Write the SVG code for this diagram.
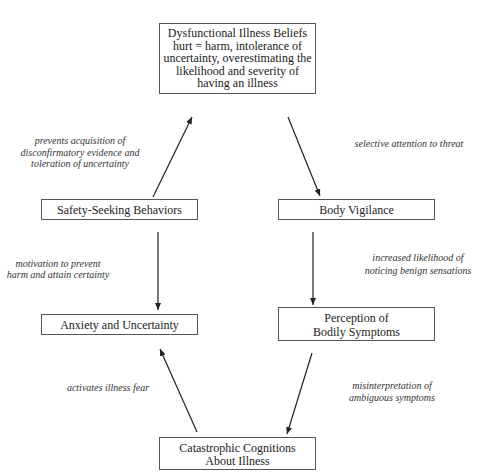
<svg xmlns="http://www.w3.org/2000/svg" width="480" height="476" viewBox="0 0 480 476">
<style>
.box{fill:#fff;stroke:#555;stroke-width:1}
.t{font-size:12px;fill:#222;text-anchor:middle}
.l{font-size:10px;font-style:italic;fill:#333;text-anchor:middle}
.c{stroke:#222;stroke-width:1.2;fill:none;marker-end:url(#ah)}
</style>
<defs>
<marker id="ah" markerUnits="userSpaceOnUse" markerWidth="8" markerHeight="6" refX="7" refY="3" orient="auto">
<path d="M0,0 L7,3 L0,6 Z" fill="#222"/>
</marker>
</defs>
<rect width="480" height="476" fill="#fff"/>
<g id="connectors">
<line class="c" x1="153" y1="197" x2="192" y2="117"/>
<line class="c" x1="288" y1="117" x2="320" y2="196"/>
<line class="c" x1="313" y1="232" x2="313" y2="305"/>
<line class="c" x1="158" y1="232" x2="158" y2="310"/>
<line class="c" x1="312" y1="353" x2="287" y2="434"/>
<line class="c" x1="197" y1="432" x2="160" y2="349"/>
</g>
<g id="labels" font-family="Times New Roman">
<text class="l" x="80" y="143.5">prevents acquisition of</text>
<text class="l" x="80" y="155.5">disconfirmatory evidence and</text>
<text class="l" x="80" y="167">toleration of uncertainty</text>
<text class="l" x="409" y="146.5">selective attention to threat</text>
<text class="l" x="58" y="266.5">motivation to prevent</text>
<text class="l" x="58" y="278">harm and attain certainty</text>
<text class="l" x="418" y="261">increased likelihood of</text>
<text class="l" x="418" y="273.5">noticing benign sensations</text>
<text class="l" x="108" y="390.5">activates illness fear</text>
<text class="l" x="392" y="388.5">misinterpretation of</text>
<text class="l" x="392" y="400.5">ambiguous symptoms</text>
</g>
<g id="beliefs" font-family="Times New Roman">
<rect class="box" x="159.5" y="23.5" width="156" height="70"/>
<text class="t" x="237.5" y="37">Dysfunctional Illness Beliefs</text>
<text class="t" x="237.5" y="49.5">hurt = harm, intolerance of</text>
<text class="t" x="237.5" y="62">uncertainty, overestimating the</text>
<text class="t" x="237.5" y="74.5">likelihood and severity of</text>
<text class="t" x="237.5" y="87">having an illness</text>
</g>
<g id="safety" font-family="Times New Roman">
<rect class="box" x="41.5" y="199.5" width="156" height="20"/>
<text class="t" x="119.5" y="213.5">Safety-Seeking Behaviors</text>
</g>
<g id="vigilance" font-family="Times New Roman">
<rect class="box" x="278.5" y="199.5" width="156" height="20"/>
<text class="t" x="356.5" y="213.5">Body Vigilance</text>
</g>
<g id="anxiety" font-family="Times New Roman">
<rect class="box" x="41.5" y="314.5" width="156" height="20"/>
<text class="t" x="119.5" y="328.5">Anxiety and Uncertainty</text>
</g>
<g id="perception" font-family="Times New Roman">
<rect class="box" x="278.5" y="307.5" width="156" height="33"/>
<text class="t" x="356.5" y="322">Perception of</text>
<text class="t" x="356.5" y="336">Bodily Symptoms</text>
</g>
<g id="catastrophic" font-family="Times New Roman">
<rect class="box" x="159.5" y="437.5" width="156" height="32"/>
<text class="t" x="237.5" y="452">Catastrophic Cognitions</text>
<text class="t" x="237.5" y="465">About Illness</text>
</g>
</svg>
